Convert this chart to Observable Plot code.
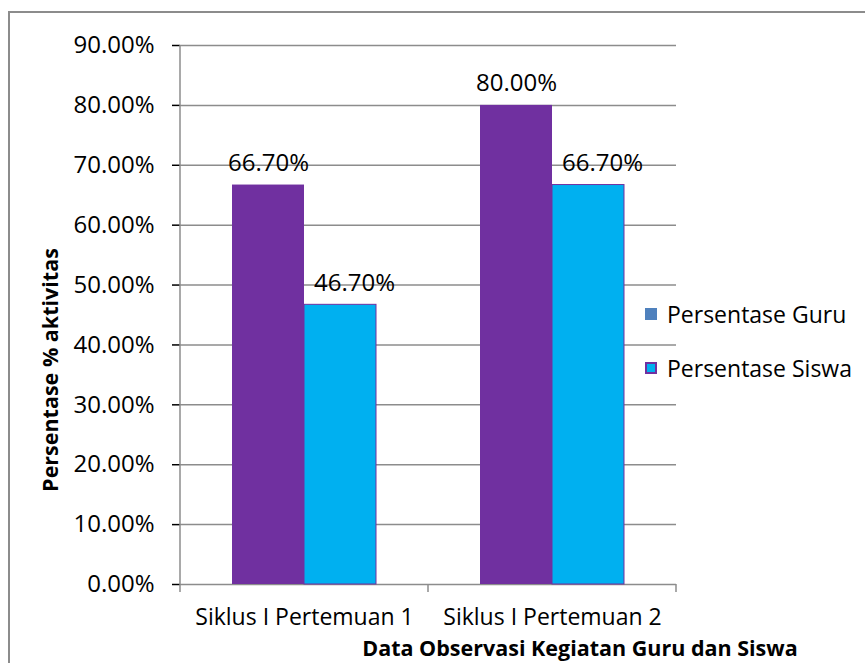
<!DOCTYPE html>
<html><head><meta charset="utf-8">
<script src="https://cdn.jsdelivr.net/npm/d3@7"></script>
<script src="https://cdn.jsdelivr.net/npm/@observablehq/plot@0.6"></script>
<style>
body{margin:0;background:#fff;}
#wrap{position:relative;width:865px;height:663px;overflow:hidden;font-family:"Open Sans",sans-serif;color:#000;}
#border{position:absolute;left:8px;top:11px;width:900px;height:700px;border-top:2px solid #8c8c8c;border-left:2px solid #8c8c8c;}
#chart{position:absolute;left:0;top:0;}
.ttl{position:absolute;font-weight:bold;font-size:21.5px;white-space:nowrap;}
#ylab{left:49px;top:370px;transform:translate(-50%,-50%) rotate(-90deg);}
#xlab{left:580px;top:647px;transform:translate(-50%,-50%);}
#legend{position:absolute;left:645px;top:298px;font-size:23px;}
.li{position:absolute;white-space:nowrap;display:flex;align-items:center;}
.sw{width:12px;height:12px;margin-right:10px;box-sizing:border-box;}
</style>
</head><body>
<div id="wrap">
  <div id="border"></div>
  <div id="chart"></div>
  <div class="ttl" id="ylab"></div>
  <div class="ttl" id="xlab"></div>
  <div id="legend"></div>
</div>
<script>
const categories = ["Siklus I Pertemuan 1", "Siklus I Pertemuan 2"];
const seriesNames = ["Persentase Guru", "Persentase Siswa"];
const guruValues = [0.667, 0.80];
const siswaValues = [0.467, 0.667];
const yTicks = [0, 0.1, 0.2, 0.3, 0.4, 0.5, 0.6, 0.7, 0.8, 0.9];
const yTitle = "Persentase % aktivitas";
const xTitle = "Data Observasi Kegiatan Guru dan Siswa";
const legendSwatches = ["#4F81BD", "#00B0F0"];

const data = categories.flatMap((c, i) => [
  {cat: c, s: seriesNames[0], v: guruValues[i]},
  {cat: c, s: seriesNames[1], v: siswaValues[i]}
]);
const fmt = d3.format(".2%");
const font = '"Open Sans",sans-serif';

const chart = Plot.plot({
  width: 865, height: 663,
  marginLeft: 179, marginRight: 189, marginTop: 45, marginBottom: 79,
  style: {fontFamily: font, fontSize: "24px", color: "#000", background: "transparent"},
  fx: {domain: categories, padding: 0, label: null, tickSize: 0, tickPadding: 24, axis: "bottom"},
  x: {domain: seriesNames, paddingInner: 0, paddingOuter: 0.72, axis: null},
  y: {domain: [0, 0.9], ticks: yTicks, tickFormat: fmt, tickSize: 8, tickPadding: 18, label: null},
  color: {domain: seriesNames, range: ["#7030A0", "#00B0F0"]},
  marks: [
    Plot.ruleY(yTicks, {stroke: "#8c8c8c", strokeWidth: 1.5}),
    Plot.barY(data, {fx: "cat", x: "s", y: "v", fill: "s", stroke: d => d.s === seriesNames[1] ? "#7030A0" : "none", strokeWidth: 1}),
    Plot.text(data.filter(d => d.s === seriesNames[0]), {fx: "cat", x: "s", y: "v", text: d => fmt(d.v), lineAnchor: "bottom", dy: -14, fill: "#000"}),
    Plot.text(data.filter(d => d.s === seriesNames[1]), {fx: "cat", x: "s", y: "v", text: d => fmt(d.v), lineAnchor: "bottom", dy: -14, dx: 14, fill: "#000"})
  ]
});
document.getElementById("chart").appendChild(chart);

const svg = d3.select(chart);
svg.selectAll('[aria-label="y-axis tick"]').attr("stroke", "#8c8c8c").attr("stroke-width", 1.5);
svg.selectAll('[aria-label="fx-axis tick label"]').attr("font-size", "23px");
const ys = chart.scale("y");
const fxs = chart.scale("fx");
const y0 = ys.apply(0), y1 = ys.apply(0.9);
const bw = fxs.bandwidth;
const x0 = fxs.apply(categories[0]);
const g = svg.append("g").attr("stroke", "#8c8c8c").attr("stroke-width", 1.5);
g.append("line").attr("x1", x0).attr("x2", x0).attr("y1", y1).attr("y2", y0);
const edges = categories.map(c => fxs.apply(c)).concat([fxs.apply(categories[categories.length - 1]) + bw]);
edges.forEach(e => g.append("line").attr("x1", e).attr("x2", e).attr("y1", y0).attr("y2", y0 + 8));

document.getElementById("ylab").textContent = yTitle;
document.getElementById("xlab").textContent = xTitle;
const leg = document.getElementById("legend");
seriesNames.forEach((s, i) => {
  const it = document.createElement("div");
  it.className = "li";
  it.style.top = (i * 54) + "px";
  const sw = document.createElement("div");
  sw.className = "sw";
  sw.style.background = legendSwatches[i];
  if (i === 1) sw.style.border = "2px solid #7030A0";
  const t = document.createElement("span");
  t.textContent = s;
  it.appendChild(sw); it.appendChild(t);
  leg.appendChild(it);
});
</script>
</body></html>
